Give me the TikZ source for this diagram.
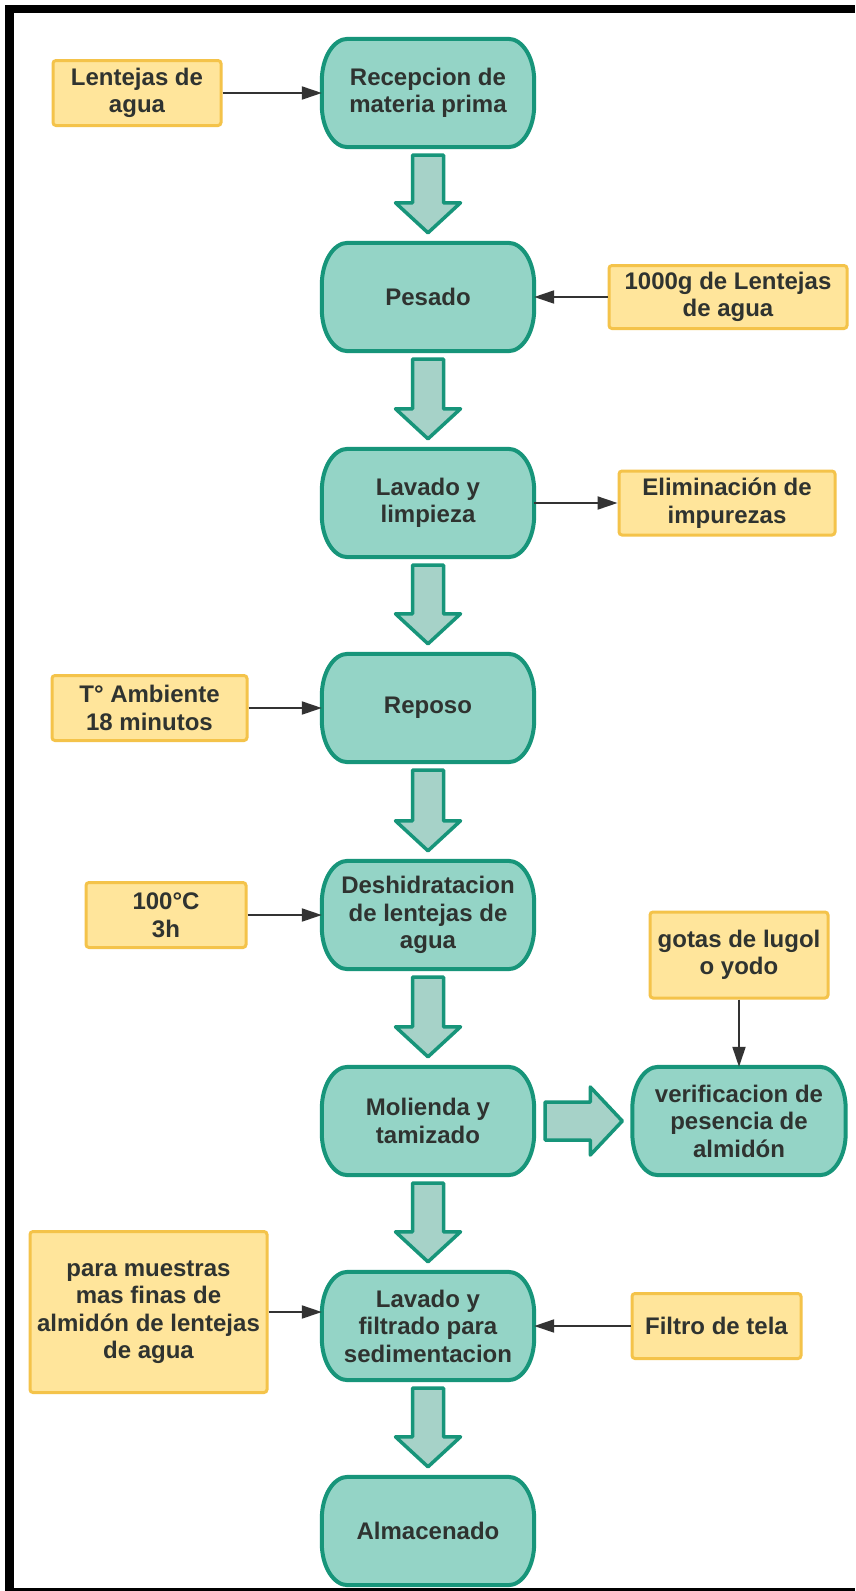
\documentclass[tikz,border=0pt]{standalone}
\usepackage{fontspec}
\setmainfont{Liberation Sans}
\usetikzlibrary{arrows.meta,calc,backgrounds}
\definecolor{tealfill}{HTML}{94D4C6}
\definecolor{tealline}{HTML}{17957A}
\definecolor{arrfill}{HTML}{A6D2C8}
\definecolor{yelfill}{HTML}{FFE59B}
\definecolor{yelline}{HTML}{F4C34A}
\definecolor{txtcol}{HTML}{2F3330}
\definecolor{conncol}{HTML}{333333}
\tikzset{
  proc/.style={minimum width=212pt, minimum height=108pt, inner sep=0pt, align=center},
  procline/.style={draw=tealline, fill=tealfill, line width=4pt},
  inbox/.style={draw=yelline, fill=yelfill, line width=3pt, rounded corners=3pt, align=center, inner sep=0pt},
  conn/.style={draw=conncol, line width=2pt, -{Triangle[length=20pt,width=13pt]}},
  blockarrow/.style={draw=tealline, fill=arrfill, line width=3.5pt, line join=round}
}
\newcommand\vblock[2]{\draw[blockarrow] let \p1=(#1.south), \p2=(#2.north) in
  (\x1-15.5pt,\y1-8pt) -- (\x1+15.5pt,\y1-8pt) -- (\x1+15.5pt,\y2+40pt) -- (\x1+32.5pt,\y2+40pt)
  -- (\x1,\y2+10pt) -- (\x1-32.5pt,\y2+40pt) -- (\x1-15.5pt,\y2+40pt) -- cycle;}
\newcommand\stadium[1]{\draw[procline] ($(#1.north west)+(26,0)$) -- ($(#1.north east)+(-26,0)$)
  arc[start angle=90,end angle=0,x radius=26pt,y radius=42pt]
  -- ($(#1.south east)+(0,-42)$)
  arc[start angle=0,end angle=-90,x radius=26pt,y radius=42pt]
  -- ($(#1.south west)+(26,0)$)
  arc[start angle=270,end angle=180,x radius=26pt,y radius=42pt]
  -- ($(#1.north west)+(0,42)$)
  arc[start angle=180,end angle=90,x radius=26pt,y radius=42pt] -- cycle;}
\begin{document}
\begin{tikzpicture}[x=1pt, y=-1pt, font=\bfseries\fontsize{24}{27.5}\selectfont, text=txtcol]
\useasboundingbox (0,0) rectangle (855,1591);
% main process nodes
\node[proc] (n1) at (428,93) {Recepcion de\\materia prima};
\node[proc] (n2) at (428,297) {Pesado};
\node[proc] (n3) at (428,503) {Lavado y\\limpieza};
\node[proc] (n4) at (428,708) {Reposo};
\node[proc] (n5) at (428,915) {Deshidratacion\\de lentejas de\\agua};
\node[proc] (n6) at (428,1121) {Molienda y\\tamizado};
\node[proc] (n7) at (428,1326) {Lavado y\\filtrado para\\sedimentacion};
\node[proc] (n8) at (428,1531) {Almacenado};
\node[proc, minimum width=213pt] (verif) at (739,1121) {verificacion de\\pesencia de\\almidón};
% input boxes
\node[inbox, minimum width=168pt, minimum height=65pt] (a1) at (137,93) {Lentejas de\\agua};
\node[inbox, minimum width=238pt, minimum height=63pt] (a2) at (728,297) {1000g de Lentejas\\de agua};
\node[inbox, minimum width=216pt, minimum height=64pt] (a3) at (727,503) {Eliminación de\\impurezas};
\node[inbox, minimum width=195pt, minimum height=65pt] (a4) at (149.5,708) {T° Ambiente\\18 minutos};
\node[inbox, minimum width=160pt, minimum height=65pt] (a5) at (166,915) {100°C\\3h};
\node[inbox, minimum width=178pt, minimum height=86pt] (a6) at (739,955) {gotas de lugol\\o yodo};
\node[inbox, minimum width=237pt, minimum height=161pt] (a7) at (148.5,1312) {para muestras\\mas finas de\\almidón de lentejas\\de agua};
\node[inbox, minimum width=169pt, minimum height=65pt] (a8) at (716.5,1326) {Filtro de tela};
% connectors
\draw[conn] (a1) -- (n1);
\draw[conn] (a2) -- (n2);
\draw[conn] (n3) -- (a3);
\draw[conn] (a4) -- (n4);
\draw[conn] (a5) -- (n5);
\draw[conn] (a6) -- (verif);
\draw[conn] (a7) -- (a7 -| n7.west);
\draw[conn] (a8) -- (n7);
% block arrows
\vblock{n1}{n2}
\vblock{n2}{n3}
\vblock{n3}{n4}
\vblock{n4}{n5}
\vblock{n5}{n6}
\vblock{n6}{n7}
\vblock{n7}{n8}
\draw[blockarrow] let \p1=(n6.east), \p2=(verif.west) in
  (\x1+11pt,\y1+19pt) -- (\x2-42pt,\y1+19pt) -- (\x2-42pt,\y1+34pt) -- (\x2-10pt,\y1)
  -- (\x2-42pt,\y1-34pt) -- (\x2-42pt,\y1-19pt) -- (\x1+11pt,\y1-19pt) -- cycle;
\begin{scope}[on background layer]
  \fill[white] (0,0) rectangle (855,1591);
  \fill[black] (5,5) rectangle (855,13);
  \fill[black] (5,5) rectangle (14,1591);
  \fill[black] (5,1588) rectangle (855,1591);
  \stadium{n1}\stadium{n2}\stadium{n3}\stadium{n4}\stadium{n5}
  \stadium{n6}\stadium{n7}\stadium{n8}\stadium{verif}
\end{scope}
\end{tikzpicture}
\end{document}
